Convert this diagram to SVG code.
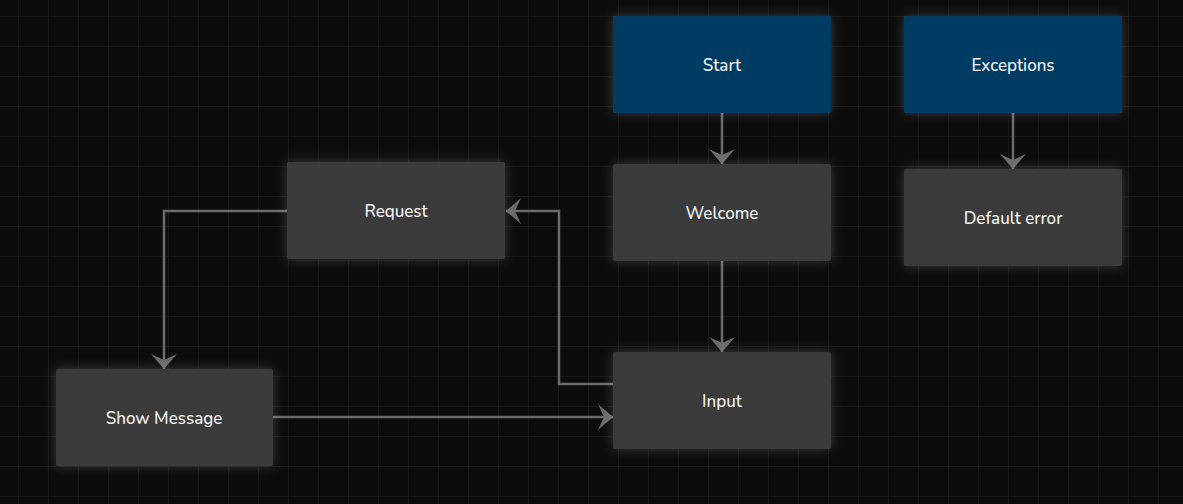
<svg xmlns="http://www.w3.org/2000/svg" width="1183" height="504" viewBox="0 0 1183 504">
<defs>
<pattern id="grid" x="18" y="16" width="30" height="30" patternUnits="userSpaceOnUse">
<rect width="30" height="30" fill="#0c0c0c"/>
<path d="M0,0 H30 M0,0 V30" stroke="#1c1c1c" stroke-width="1.5" fill="none"/>
</pattern>
<filter id="glow" x="-20%" y="-30%" width="140%" height="160%">
<feDropShadow dx="0" dy="0" stdDeviation="6" flood-color="#ffffff" flood-opacity="0.2"/>
</filter>
<marker id="arr" markerUnits="userSpaceOnUse" markerWidth="16" markerHeight="26" refX="15" refY="13" orient="auto" viewBox="0 0 16 26">
<path d="M0,0 L15,13 L0,26 L6,13 Z" fill="#6a6a6a"/>
</marker>
</defs>
<style>
.node rect{fill:#3a3a3a;filter:url(#glow)}
.node.blue rect{fill:#003a63}
.node text{font-family:"Nunito","Open Sans","Lato",sans-serif;font-size:17px;font-weight:500;fill:#f4f4f4;text-anchor:middle;dominant-baseline:central}
.edge{fill:none;stroke:#6a6a6a;stroke-width:2.5;marker-end:url(#arr)}
</style>
<rect width="1183" height="504" fill="url(#grid)"/>
<g id="connectors">
<path class="edge" d="M722,113 V164"/>
<path class="edge" d="M1013,113 V169"/>
<path class="edge" d="M722,261 V352"/>
<path class="edge" d="M613,384 H559 V211 H506"/>
<path class="edge" d="M287,211 H164 V369"/>
<path class="edge" d="M273,417 H613"/>
</g>
<g id="node-start" class="node blue"><rect x="613" y="16" width="218" height="97" rx="3"/><text x="722" y="65">Start</text></g>
<g id="node-exceptions" class="node blue"><rect x="904" y="16" width="218" height="97" rx="3"/><text x="1013" y="65">Exceptions</text></g>
<g id="node-welcome" class="node"><rect x="613" y="164" width="218" height="97" rx="3"/><text x="722" y="213">Welcome</text></g>
<g id="node-default-error" class="node"><rect x="904" y="169" width="218" height="97" rx="3"/><text x="1013" y="218">Default error</text></g>
<g id="node-request" class="node"><rect x="287" y="162" width="218" height="97" rx="3"/><text x="396" y="211">Request</text></g>
<g id="node-input" class="node"><rect x="613" y="352" width="218" height="97" rx="3"/><text x="722" y="401">Input</text></g>
<g id="node-show-message" class="node"><rect x="56" y="369" width="217" height="97" rx="3"/><text x="164" y="418">Show Message</text></g>
</svg>
